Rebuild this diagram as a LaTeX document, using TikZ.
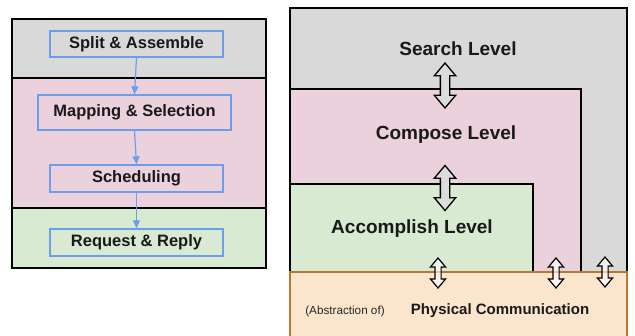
\documentclass[tikz,border=0pt]{standalone}
\usepackage{fontspec}
\setmainfont{Liberation Sans}
\usetikzlibrary{shapes.arrows,arrows.meta}
\definecolor{bandgray}{HTML}{D9D9D9}
\definecolor{bandpink}{HTML}{EAD1DC}
\definecolor{bandgreen}{HTML}{D9EAD3}
\definecolor{bandorange}{HTML}{FCE5CD}
\definecolor{orangeline}{HTML}{B8782F}
\definecolor{boxblue}{HTML}{6D9EEB}
\definecolor{arrowgray}{HTML}{DCDCDC}
\begin{document}
\begin{tikzpicture}[x=1pt,y=-1pt,
  stagebox/.style={draw=boxblue,line width=1.3pt,inner sep=0pt,
    font=\fontsize{16.5}{19}\selectfont\bfseries,text=black!90},
  flow/.style={draw=boxblue,line width=1.2pt,-{Triangle[length=8pt,width=7pt]}},
  band/.style={line width=2.2pt,draw=black},
  leveltext/.style={font=\fontsize{19}{22}\selectfont\bfseries,text=black!90},
  bigdbl/.style={double arrow,draw=black,line width=1.3pt,fill=arrowgray,
    rotate=90,minimum height=45pt,minimum width=0pt,inner xsep=0pt,inner ysep=4pt,
    double arrow head extend=6pt,double arrow tip angle=80,double arrow head indent=0pt},
  smalldbl/.style={double arrow,draw=black,line width=1.2pt,fill=white,fill opacity=0.6,
    rotate=90,minimum height=30pt,minimum width=0pt,inner xsep=0pt,inner ysep=2.5pt,
    double arrow head extend=4.5pt,double arrow tip angle=80,double arrow head indent=0pt}]
\useasboundingbox (0,0) rectangle (635,336);
\fill[white] (0,0) rectangle (635,336);

% ---------- left panel ----------
\fill[bandgray] (12,19) rectangle (266,78);
\fill[bandpink] (12,78) rectangle (266,208);
\fill[bandgreen] (12,208) rectangle (266,268);
\draw[band] (12,78) -- (266,78);
\draw[band] (12,208) -- (266,208);
\draw[band] (12,19) rectangle (266,268);

\node[stagebox,minimum width=173pt,minimum height=26pt] (split) at (136.5,44) {Split \& Assemble};
\node[stagebox,minimum width=193pt,minimum height=35pt] (map) at (134.5,112.5) {Mapping \& Selection};
\node[stagebox,minimum width=173pt,minimum height=27pt] (sched) at (136.5,178.5) {Scheduling};
\node[stagebox,minimum width=173pt,minimum height=27pt] (req) at (136.5,242.5) {Request \& Reply};

\draw[flow] (split.south) -- (map.north);
\draw[flow] (map.south) -- (sched.north);
\draw[flow] (sched.south) -- (req.north);

% ---------- right panel ----------
\fill[bandgray] (290,8) rectangle (627,272);
\draw[band] (290,272) -- (290,8) -- (627,8) -- (627,272);
\fill[bandpink] (290,89) rectangle (581,272);
\draw[band] (290,272) -- (290,89) -- (581,89) -- (581,272);
\fill[bandgreen] (290,184) rectangle (533,272);
\draw[band] (290,272) -- (290,184) -- (533,184) -- (533,272);
\filldraw[fill=bandorange,draw=orangeline,line width=2.2pt] (290,272) rectangle (627,345);

\node[leveltext] (search) at (458,49) {Search Level};
\node[leveltext] (compose) at (446,135) {Compose Level};
\node[leveltext] (accomp) at (412,229) {Accomplish Level};
\node[font=\fontsize{11.7}{14}\selectfont,text=black!85] (abs) at (345,311) {(Abstraction of)};
\node[font=\fontsize{15}{18}\selectfont\bfseries,text=black!90] (phys) at (500,311) {Physical Communication};

\node[bigdbl] (a1) at (445,85.5) {};
\node[bigdbl] (a2) at (445,188) {};
\node[smalldbl] (s1) at (438,273) {};
\node[smalldbl] (s2) at (556,273) {};
\node[smalldbl] (s3) at (605,272) {};
\end{tikzpicture}
\end{document}
